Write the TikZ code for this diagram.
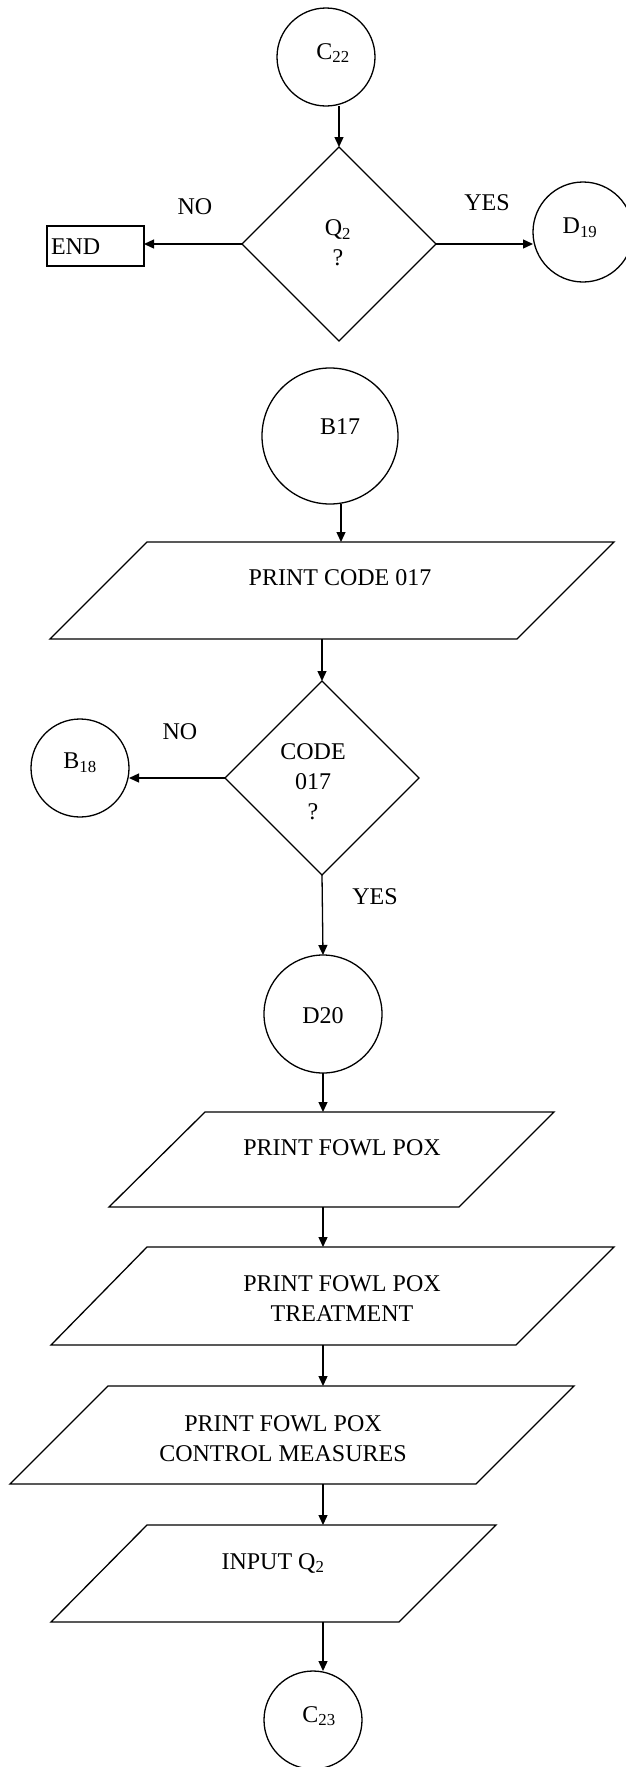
\documentclass[tikz,border=0pt]{standalone}
\usepackage{fontspec}
\setmainfont{Liberation Serif}
\usetikzlibrary{shapes.geometric,arrows.meta,calc}
\begin{document}
\begin{tikzpicture}[x=1pt,y=-1pt,
  every node/.style={font=\fontsize{24}{30}\selectfont, inner sep=0pt, outer sep=0pt},
  conn/.style={circle, draw, line width=1.3pt},
  decis/.style={diamond, draw, line width=1.3pt, minimum width=194pt, minimum height=194pt},
  endbox/.style={rectangle, draw, line width=1.1pt},
  arr/.style={-{Triangle[length=10pt,width=9pt]}, line width=1.3pt},
  iobox/.style={draw, line width=1.3pt, line join=miter},
  txt/.style={align=center}
]
\useasboundingbox (0,0) rectangle (625,1767);

% ---- top part
\node[conn, minimum size=98pt] (c22) at (326,57) {};
\node (c22t) at (333,53) {C\textsubscript{22}};
\node[decis] (q2) at (339,244) {};
\node[txt] (q2t) at (338,243) {Q\textsubscript{2}\\?};
\node[endbox, minimum width=97pt, minimum height=40pt] (endn) at (95.5,246) {};
\node[anchor=west] (endt) at (51,247) {END};
\node[conn, minimum size=100pt] (d19) at (583,232) {};
\node (d19t) at (580,228) {D\textsubscript{19}};
\node (no1) at (195,207) {NO};
\node (yes1) at (487,203) {YES};

\draw[arr] (c22.south -| q2.north) -- (q2.north);
\draw[arr] (q2.west) -- (q2.west -| endn.east);
\draw[arr] (q2.east) -- (q2.east -| d19.west);

% ---- B17 section
\node[conn, minimum size=136pt] (b17) at (330,436) {};
\node (b17t) at (340,427) {B17};
\coordinate (p1t) at (341,542);
\coordinate (p1b) at (322,639);
\draw[iobox] (147,542) -- (614,542) -- (517,639) -- (50,639) -- cycle;
\node (p1text) at (340,578) {PRINT CODE 017};
\draw[arr] (b17.south -| p1t) -- (p1t);

\node[decis] (q17) at (322,778) {};
\node[txt] (q17t) at (313,782) {CODE\\017\\?};
\draw[arr] (p1b) -- (q17.north);
\node[conn, minimum size=98pt] (b18) at (80,768) {};
\node (b18t) at (80,763) {B\textsubscript{18}};
\draw[arr] (q17.west) -- (q17.west -| b18.east);
\node (no2) at (180,732) {NO};
\node (yes2) at (375,897) {YES};

% ---- D20 section
\node[conn, minimum size=118pt] (d20) at (323,1014) {};
\node (d20t) at (323,1016) {D20};
\draw[arr] (q17.south) -- (d20.north);

\coordinate (p2t) at (323,1112);
\coordinate (p2b) at (323,1207);
\draw[iobox] (205,1112) -- (554,1112) -- (459,1207) -- (109,1207) -- cycle;
\node (p2text) at (342,1148) {PRINT FOWL POX};
\draw[arr] (d20.south) -- (p2t);

\coordinate (p3t) at (323,1247);
\coordinate (p3b) at (323,1345);
\draw[iobox] (147,1247) -- (614,1247) -- (516,1345) -- (51,1345) -- cycle;
\node[txt] (p3text) at (342,1299) {PRINT FOWL POX\\TREATMENT};
\draw[arr] (p2b) -- (p3t);

\coordinate (p4t) at (323,1386);
\coordinate (p4b) at (323,1484);
\draw[iobox] (108,1386) -- (574,1386) -- (476,1484) -- (10,1484) -- cycle;
\node[txt] (p4text) at (283,1439) {PRINT FOWL POX\\CONTROL MEASURES};
\draw[arr] (p3b) -- (p4t);

\coordinate (p5t) at (323,1525);
\coordinate (p5b) at (323,1622);
\draw[iobox] (147,1525) -- (496,1525) -- (399,1622) -- (51,1622) -- cycle;
\node (p5text) at (273,1563) {INPUT Q\textsubscript{2}};
\draw[arr] (p4b) -- (p5t);

\node[conn, minimum size=98pt] (c23) at (313,1720) {};
\node (c23t) at (319,1716) {C\textsubscript{23}};
\draw[arr] (p5b) -- (p5b |- c23.north);
\end{tikzpicture}
\end{document}
